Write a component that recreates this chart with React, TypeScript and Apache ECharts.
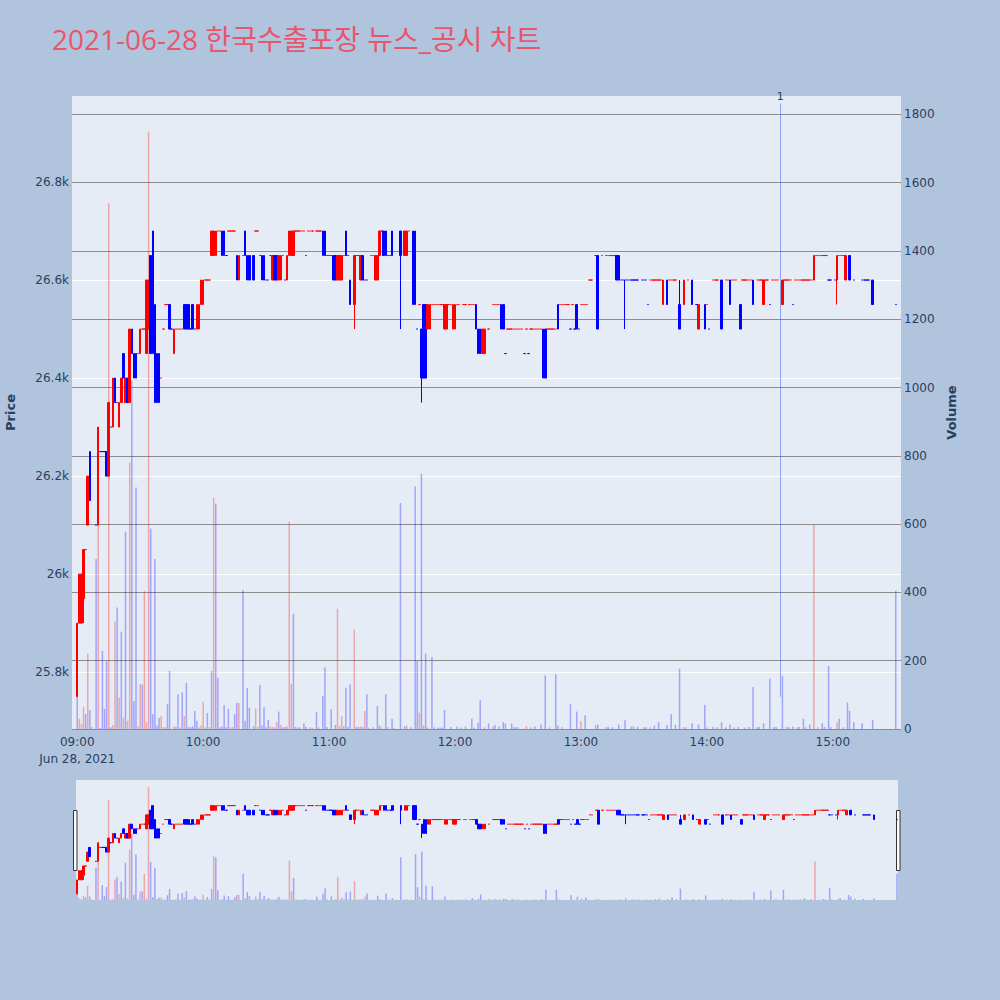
import React, { useEffect, useRef } from 'react';
import * as echarts from 'echarts';

const chartTitle = '2021-06-28 한국수출포장 뉴스_공시 차트';
const sessionStartHour = 9;
const sessionMinutes = 390;
const axisPadMinutes = 2;
const dateLabel = 'Jun 28, 2021';

// [minute, open, close, low?, high?]  (two values = trade at one price)
const candles: number[][] = [
  [0,25750,25900],[1,25900,26000],[2,25900,26000],[3,25950,26050,25900,26050],[4,26050],
  [5,26100,26200],[6,26250,26150],[9,26100],[10,26100,26300],[11,26250],[12,26250],[13,26250],
  [14,26250,26200],[15,26200,26350],[16,26300],[17,26300,26400],[18,26400,26350],[19,26350],
  [20,26300,26350],[21,26350,26400],[22,26450,26400],[23,26350,26400],[24,26400,26350],
  [25,26350,26500],[26,26500,26450],[27,26450,26400],[28,26450,26400],[29,26450],[30,26450,26500],
  [31,26500],[32,26500],[33,26450,26600],[34,26500,26600],[35,26650,26450],[36,26700,26450],
  [37,26550,26350],[38,26450,26350],[39,26450,26350],[40,26400],[41,26500],[42,26550],[43,26550],
  [44,26550,26500],[45,26500],[46,26450,26500],[47,26500],[48,26500],[49,26500],[50,26500],
  [51,26550,26500],[52,26550,26500],[53,26550,26500],[54,26500],[55,26550,26500],[56,26500],
  [57,26500,26550],[58,26500,26550],[59,26550,26600],[60,26550,26600],[61,26600],[62,26600],[63,26600],
  [64,26650,26700],[65,26650,26700],[66,26650,26700],[67,26700],[68,26700],[69,26700,26650],[70,26700,26650],
  [71,26650],[72,26700],[73,26700],[74,26700],[75,26700],[76,26650,26600],[77,26600,26650],[79,26650],
  [80,26700,26650],[81,26650,26600],[82,26650,26600],[84,26650,26600],[85,26700],[86,26700],[87,26650],
  [88,26650,26600],[89,26650,26600],[90,26600],[91,26600],[92,26650],[93,26600,26650],[94,26650,26600],
  [95,26650,26600],[96,26600,26650],[97,26600,26650],[98,26650],[99,26600],[100,26600,26650],
  [101,26650,26700],[102,26650,26700],[103,26650,26700],[104,26700],[105,26700],[106,26700],[107,26700],
  [108,26700],[109,26650],[110,26700],[111,26700],[112,26700],[114,26700],[115,26700],[116,26700],
  [117,26700,26650],[118,26700,26650],[119,26650],[120,26650],[121,26650],[122,26650,26600],[123,26650,26600],
  [124,26600,26650],[125,26600,26650],[126,26600,26650],[127,26650],[128,26700,26650],[129,26650],
  [130,26600,26550],[132,26550,26650,26500,26650],[133,26650],[134,26650],[135,26600,26650],[136,26650,26600],
  [137,26600],[138,26600],[140,26650],[141,26650],[142,26600,26650],[143,26600,26650],[144,26650,26700],
  [145,26700],[146,26700,26650],[147,26700,26650],[148,26650],[149,26650],[150,26700,26650],
  [154,26700,26650,26500,26700],[156,26650,26700],[157,26650,26700],[158,26700],
  [160,26700,26550],[161,26700,26550],[162,26500],[163,26550],[164,26500,26400,26350,26500],
  [165,26550,26400],[166,26550,26400],[167,26500,26550],[168,26500,26550],
  [169,26550],[170,26550],[171,26550],[172,26550],[173,26550],[174,26550],
  [175,26500,26550],[176,26500,26550],[177,26550],[178,26550],[179,26500,26550],[180,26500,26550],
  [181,26550],[182,26550],[184,26550],[185,26550],[187,26550],[188,26550],[189,26550],
  [190,26550,26500],[191,26500,26450],[192,26500,26450],[193,26450,26500],[194,26450,26500],[196,26500],
  [198,26550],[199,26550],[200,26550],[201,26550],[202,26550,26500],[203,26550,26500],[204,26450],
  [205,26500],[206,26500],[207,26500],[208,26500],[209,26500],[210,26500],[211,26500],[212,26500],
  [213,26450],[214,26500],[215,26450],[216,26500],[217,26500],[218,26500],[219,26500],[220,26500],[221,26500],
  [222,26500,26400],[223,26500,26400],[224,26500],[225,26500],[226,26500],[227,26500],[228,26500],
  [229,26550,26500],[230,26550],[231,26550],[232,26550],[233,26550],[234,26550],[235,26500],[236,26550],
  [237,26500],[238,26550,26500],[239,26500],[240,26550],[241,26550],[242,26550],[243,26550],
  [244,26600],[245,26600],[247,26650],[248,26650,26500],[250,26650],[252,26650],[253,26650],[254,26650],
  [255,26650],[256,26650],[257,26650,26600],[258,26650,26600],[259,26600],[260,26600],[261,26600,26600,26500,26600],
  [262,26600],[263,26600],[264,26600],[265,26600],[266,26600],[267,26600],[269,26600],[270,26600],[271,26600],
  [272,26550],[273,26600],[274,26600],[275,26600],[276,26600],[277,26600],[278,26600],[279,26550,26600],
  [281,26600,26550],[282,26600],[283,26600],[284,26600],[285,26600],[287,26550,26500,26500,26600],
  [289,26550,26600],[291,26600],[293,26600,26550],[295,26550],[296,26500,26550],[299,26550,26500],
  [300,26550],[301,26500],[303,26600],[304,26600],[305,26600],[307,26600,26500],[309,26600],[310,26600],
  [311,26600,26550],[312,26600],[313,26600],[314,26600],[316,26550,26500],[317,26600],[318,26600],[319,26600],
  [320,26600],[321,26600],[322,26600,26550],[324,26600],[325,26600],[326,26600],[327,26550,26600],
  [328,26600],[329,26600],[330,26550],[331,26600],[332,26600],[333,26600],[334,26600],[336,26550,26600],
  [337,26600],[338,26600],[339,26600],[340,26600],[341,26550],[342,26600],[343,26600],[344,26600],
  [345,26600],[346,26600],[347,26600],[348,26600],[349,26600],[350,26600],[351,26600,26650],
  [352,26650],[353,26650],[354,26650],[355,26650],[356,26650],[357,26650],[358,26600],[359,26600],
  [361,26600],[362,26600,26650,26550,26650],[363,26650],[364,26650],[365,26650],[366,26600,26650],
  [368,26650,26600],[370,26600],[374,26600],[375,26600],[376,26600],[377,26600],[379,26600,26550],[390,26550],
];

// [minute, volume, side (1 = red, -1 = blue)]
const volumes: number[][] = [
  [0,260,-1],[1,30,1],[2,15,1],[3,64,1],[4,44,-1],[5,220,1],[6,56,-1],[7,6,-1],[9,498,-1],[10,600,1],
  [11,3,-1],[12,229,-1],[13,59,-1],[14,199,-1],[15,1540,1],[16,5,-1],[17,12,1],[18,315,1],[19,356,-1],
  [20,92,1],[21,285,-1],[22,33,1],[23,578,-1],[24,24,1],[25,780,1],[26,1020,-1],[27,82,-1],[28,707,-1],
  [29,8,1],[30,132,1],[31,130,-1],[32,405,1],[33,20,1],[34,1750,1],[35,587,-1],[36,43,-1],[37,498,-1],
  [38,10,-1],[39,33,-1],[40,38,1],[41,5,1],[42,6,1],[43,73,-1],[44,170,-1],[46,8,1],[47,6,-1],[48,102,-1],
  [49,5,1],[50,108,-1],[51,38,1],[52,135,-1],[53,6,-1],[54,5,-1],[55,8,-1],[56,53,-1],[57,24,-1],[58,5,1],
  [59,10,1],[60,80,1],[61,5,1],[62,47,-1],[63,6,1],[64,170,-1],[65,677,1],[66,660,-1],[67,150,-1],[68,5,1],
  [69,8,-1],[70,70,-1],[71,5,-1],[72,59,-1],[73,5,1],[74,6,1],[75,44,-1],[76,76,-1],[77,76,1],[79,407,-1],
  [80,24,-1],[81,120,-1],[82,62,-1],[84,8,-1],[85,60,1],[86,6,1],[87,129,-1],[88,10,-1],[89,64,-1],[90,5,-1],
  [91,27,-1],[92,8,1],[93,6,1],[94,5,-1],[95,21,1],[96,51,-1],[97,12,1],[98,5,-1],[99,6,-1],[100,8,1],
  [101,607,1],[102,132,1],[103,337,-1],[104,6,-1],[105,5,1],[106,5,-1],[108,16,-1],[109,6,-1],[111,5,1],
  [112,4,1],[114,50,-1],[115,5,1],[117,97,-1],[118,180,-1],[119,6,-1],[121,58,-1],[123,12,-1],[124,352,1],
  [125,8,1],[126,37,1],[127,8,-1],[128,121,-1],[129,6,-1],[130,131,-1],[132,291,1],[133,6,-1],[134,6,-1],
  [135,8,1],[136,6,-1],[137,53,1],[138,102,-1],[139,4,1],[141,5,-1],[143,67,-1],[144,10,-1],[145,5,1],
  [147,102,-1],[148,6,1],[150,29,-1],[151,4,1],[154,662,-1],[156,8,-1],[157,10,1],[159,5,-1],
  [161,710,-1],[162,199,-1],[163,48,1],[164,748,-1],[165,10,-1],[166,221,-1],[167,5,1],[169,211,-1],[170,5,-1],
  [172,4,-1],[173,4,-1],[174,4,-1],[175,56,-1],[178,6,-1],[181,7,-1],[183,4,-1],[185,7,-1],[188,30,-1],[189,4,-1],
  [191,18,-1],[192,84,-1],[194,5,1],[196,16,-1],[198,7,1],[199,12,-1],[201,7,-1],[203,20,-1],[204,16,-1],
  [207,16,-1],[208,5,-1],[209,5,-1],[210,5,-1],[214,8,1],[216,5,1],[218,8,-1],[221,13,-1],[223,157,-1],
  [225,5,1],[228,160,-1],[229,10,-1],[231,6,1],[235,74,-1],[238,51,-1],[240,23,1],[242,40,-1],[247,12,1],
  [248,13,-1],[252,5,-1],[253,5,-1],[255,5,-1],[258,13,-1],[261,26,-1],[264,7,-1],[265,7,-1],[267,7,-1],
  [270,5,-1],[271,5,-1],[273,5,1],[275,10,-1],[277,20,-1],[281,12,-1],[283,43,-1],[285,12,-1],[287,177,-1],
  [289,6,1],[290,5,1],[293,17,-1],[296,13,-1],[299,70,-1],[300,5,1],[303,6,-1],[305,5,-1],[307,20,-1],
  [309,5,-1],[311,13,-1],[313,5,1],[315,6,-1],[318,5,1],[320,6,-1],[322,123,-1],[324,5,-1],[325,6,-1],
  [327,17,-1],[330,147,-1],[332,6,-1],[333,6,-1],[336,155,-1],[338,6,-1],[339,5,-1],[341,7,-1],[343,5,1],
  [344,6,-1],[346,30,-1],[347,5,-1],[349,13,-1],[351,598,1],[353,5,1],[355,17,-1],[356,6,-1],[358,185,-1],
  [359,6,-1],[362,20,1],[363,30,-1],[365,5,-1],[367,77,-1],[368,53,-1],[370,20,-1],[374,17,-1],[379,27,-1],
  [390,405,-1],
];

const newsMinute = 335;
const newsLabel = '1';
const newsLineFrom = 25750;
const newsLineTo = 26960;

const priceMin = 25684;
const priceMax = 26975.5;
const volumeMax = 1854;

const UP = '#ff0000';
const DOWN = '#0000ff';
const UP_VOL = 'rgba(255,0,0,0.3)';
const DOWN_VOL = 'rgba(0,0,255,0.3)';
const TITLE_FONT = '"Open Sans", "Noto Sans CJK KR", sans-serif';
const FONT = '"DejaVu Sans", Verdana, sans-serif';
const AXIS_TEXT = '#2a3f5f';

function hhmm(m: number): string {
  const t = sessionStartHour * 60 + m;
  const h = Math.floor(t / 60);
  const mm = ((t % 60) + 60) % 60;
  return String(h).padStart(2, '0') + ':' + String(mm).padStart(2, '0');
}

export default function App() {
  const ref = useRef<HTMLDivElement>(null);
  useEffect(() => {
    document.body.style.margin = '0';
    const chart = echarts.init(ref.current!, null, { renderer: 'svg' });

    const mainMinutes: number[] = [];
    for (let m = -axisPadMinutes; m <= sessionMinutes + axisPadMinutes; m++) mainMinutes.push(m);
    const navMinutes: number[] = [];
    for (let m = 0; m <= sessionMinutes; m++) navMinutes.push(m);

    const candleByMin = new Map<number, any>();
    let prevClose: number | null = null;
    let prevDir = 1;
    [...candles].sort((a, b) => a[0] - b[0]).forEach((row) => {
      const m = row[0];
      const o = row[1];
      const c = row.length > 2 ? row[2] : row[1];
      const l = row.length > 3 ? row[3] : Math.min(o, c);
      const h = row.length > 4 ? row[4] : Math.max(o, c);
      let dir: number;
      if (c > o) dir = 1;
      else if (c < o) dir = -1;
      else if (prevClose === null) dir = 1;
      else if (c > prevClose) dir = 1;
      else if (c < prevClose) dir = -1;
      else dir = prevDir;
      prevClose = c;
      prevDir = dir;
      const col = dir > 0 ? UP : DOWN;
      candleByMin.set(m, {
        value: [o, c, l, h],
        itemStyle: { color: col, color0: col, borderColor: col, borderColor0: col, borderColorDoji: col },
      });
    });
    const volByMin = new Map<number, any>();
    volumes.forEach(([m, v, s]) => {
      volByMin.set(m, { value: v, itemStyle: { color: s > 0 ? UP_VOL : DOWN_VOL } });
    });

    const mainCandles = mainMinutes.map((m) => candleByMin.get(m) ?? '-');
    const mainVols = mainMinutes.map((m) => volByMin.get(m) ?? '-');
    const navCandles = navMinutes.map((m) => candleByMin.get(m) ?? '-');
    const navVols = navMinutes.map((m) => volByMin.get(m) ?? '-');

    const candleStyle = { color: UP, color0: DOWN, borderColor: UP, borderColor0: DOWN, borderWidth: 1 };

    const option: any = {
      animation: false,
      backgroundColor: '#b0c4de',
      title: {
        text: chartTitle,
        left: 47,
        top: 20,
        textStyle: { color: '#e8566c', fontSize: 28, fontWeight: 'normal', fontFamily: TITLE_FONT },
      },
      grid: [
        { left: 72, top: 96, width: 829, height: 633, show: true, backgroundColor: '#e5ecf6', borderWidth: 0, outerBoundsMode: 'none', containLabel: false },
        { left: 76, top: 780, width: 822, height: 120, show: true, backgroundColor: '#e5ecf6', borderWidth: 0, outerBoundsMode: 'none', containLabel: false },
      ],
      xAxis: [
        {
          type: 'category',
          gridIndex: 0,
          data: mainMinutes.map(hhmm),
          boundaryGap: true,
          axisLine: { show: false },
          axisTick: { show: false },
          splitLine: { show: false },
          axisLabel: {
            interval: (i: number) => {
              const m = mainMinutes[i];
              return m >= 0 && m <= sessionMinutes && m % 60 === 0;
            },
            formatter: (v: string) => (v === hhmm(0) ? `${v}\n${dateLabel}` : v),
            color: AXIS_TEXT,
            fontSize: 12,
            fontFamily: FONT,
            lineHeight: 17,
            margin: 4,
          },
        },
        { type: 'category', gridIndex: 1, data: navMinutes.map(hhmm), boundaryGap: true, show: false },
      ],
      yAxis: [
        {
          type: 'value',
          gridIndex: 0,
          position: 'left',
          min: priceMin,
          max: priceMax,
          splitNumber: 6,
          name: 'Price',
          nameLocation: 'middle',
          nameRotate: 90,
          nameGap: 55,
          nameTextStyle: { color: AXIS_TEXT, fontSize: 13, fontWeight: 'bold', fontFamily: FONT },
          axisLine: { show: false },
          axisTick: { show: false },
          splitLine: { lineStyle: { color: '#ffffff', width: 1 }, showMinLine: false, showMaxLine: false },
          axisLabel: {
            formatter: (v: number) => (Math.abs(v % 200) < 1e-6 ? `${v / 1000}k` : ''),
            color: AXIS_TEXT,
            fontSize: 12,
            fontFamily: FONT,
            margin: 3,
          },
        },
        {
          type: 'value',
          gridIndex: 0,
          position: 'right',
          min: 0,
          max: volumeMax,
          interval: 200,
          name: 'Volume',
          nameLocation: 'middle',
          nameRotate: 90,
          nameGap: 44,
          nameTextStyle: { color: AXIS_TEXT, fontSize: 13, fontWeight: 'bold', fontFamily: FONT },
          axisLine: { show: false },
          axisTick: { show: false },
          splitLine: { lineStyle: { color: '#8c8c8c', width: 1 }, showMaxLine: false },
          axisLabel: {
            formatter: (v: number) => (v % 200 === 0 && v <= 1800 ? String(v) : ''),
            color: AXIS_TEXT,
            fontSize: 12,
            fontFamily: FONT,
            margin: 3,
          },
        },
        { type: 'value', gridIndex: 1, min: priceMin, max: priceMax, show: false, splitLine: { show: false } },
        { type: 'value', gridIndex: 1, min: 0, max: volumeMax, show: false, splitLine: { show: false } },
      ],
      series: [
        {
          type: 'candlestick',
          xAxisIndex: 0,
          yAxisIndex: 0,
          data: mainCandles,
          barWidth: 2,
          itemStyle: candleStyle,
          markLine: {
            silent: true,
            symbol: ['none', 'none'],
            lineStyle: { color: 'rgba(65,105,225,0.55)', width: 1, type: 'solid' },
            label: { show: true, position: 'end', formatter: newsLabel, color: AXIS_TEXT, fontSize: 11, fontFamily: FONT, distance: 2 },
            data: [[{ coord: [hhmm(newsMinute), newsLineFrom] }, { coord: [hhmm(newsMinute), newsLineTo] }]],
          },
        },
        {
          type: 'bar',
          xAxisIndex: 0,
          yAxisIndex: 1,
          data: mainVols,
          barWidth: 1.5,
        },
        {
          type: 'candlestick',
          xAxisIndex: 1,
          yAxisIndex: 2,
          data: navCandles,
          barWidth: 2,
          itemStyle: candleStyle,
        },
        {
          type: 'bar',
          xAxisIndex: 1,
          yAxisIndex: 3,
          data: navVols,
          barWidth: 1.5,
        },
      ],
      graphic: [
        { type: 'rect', shape: { x: 73.5, y: 810.5, width: 3.5, height: 60 }, style: { fill: '#ffffff', stroke: '#333333', lineWidth: 1 } },
        { type: 'rect', shape: { x: 896.5, y: 810.5, width: 3.5, height: 60 }, style: { fill: '#ffffff', stroke: '#333333', lineWidth: 1 } },
      ],
    };
    chart.setOption(option);
    return () => chart.dispose();
  }, []);
  return <div ref={ref} style={{ position: 'absolute', left: 0, top: 0, width: 1000, height: 1000 }} />;
}
